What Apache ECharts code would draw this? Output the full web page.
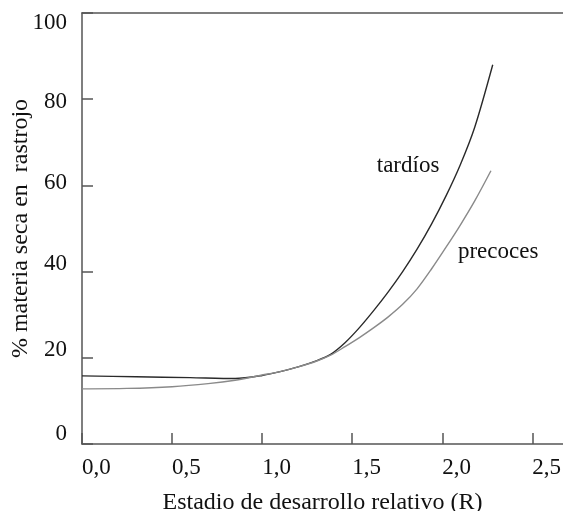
<!DOCTYPE html>
<html>
<head>
<meta charset="utf-8">
<script src="https://cdn.jsdelivr.net/npm/echarts@6/dist/echarts.min.js"></script>
<style>html,body{margin:0;padding:0;background:#fff}#c{width:563px;height:511px}</style>
</head>
<body>
<div id="c"></div>
<script>
// Data
var xTicks = [0, 0.5, 1.0, 1.5, 2.0, 2.5];
var yTicks = [0, 20, 40, 60, 80, 100];

var tardiosR = [0.0, 0.3, 0.6, 0.85, 1.0, 1.1, 1.2, 1.3, 1.38, 1.46, 1.54, 1.62, 1.70, 1.78, 1.86, 1.94, 2.02, 2.10, 2.18, 2.28];
var tardiosV = [15.8, 15.6, 15.4, 15.2, 15.9, 16.8, 17.9, 19.3, 20.8, 23.5, 27.0, 31.0, 35.3, 40.0, 45.2, 51.0, 57.5, 64.8, 73.5, 88.0];

var precocesR = [0.0, 0.25, 0.5, 0.7, 0.85, 1.0, 1.1, 1.2, 1.3, 1.38, 1.46, 1.54, 1.62, 1.70, 1.78, 1.86, 1.94, 2.02, 2.10, 2.18, 2.27];
var precocesV = [12.8, 12.9, 13.3, 14.0, 14.8, 16.0, 16.8, 17.9, 19.2, 20.6, 22.6, 24.7, 27.0, 29.5, 32.4, 36.0, 40.6, 45.6, 50.8, 56.4, 63.4];

var seriesNames = ['tardíos', 'precoces'];
var labelPos = [[1.81, 64.4], [2.31, 44.6]];

var xTitle = 'Estadio de desarrollo relativo (R)';
var yTitle = '% materia seca en  rastrojo';

function pairs(xs, ys) { return xs.map(function (x, i) { return [x, ys[i]]; }); }

var FONT = '"Liberation Serif", "DejaVu Serif", serif';
var axisCol = '#555';

// per-label vertical nudges seen in the original (px, + = down)
var yShift = {0: -10, 20: -8, 40: -8, 60: -2, 80: 2.5, 100: 10};
var rich = {};
yTicks.forEach(function (v) {
  var d = yShift[v];
  rich['v' + v] = {
    fontFamily: FONT, fontSize: 23, color: '#111',
    padding: d >= 0 ? [2 * d, 0, 0, 0] : [0, 0, -2 * d, 0]
  };
});

var chart = echarts.init(document.getElementById('c'), null, {renderer: 'canvas'});
chart.setOption({
  animation: false,
  backgroundColor: '#fff',
  grid: {left: 82, right: 0, top: 13, bottom: 67, outerBoundsMode: 'none', containLabel: false},
  xAxis: [{
    type: 'value', min: 0, max: 2.67,
    axisLine: {show: true, lineStyle: {color: axisCol, width: 1.5}},
    axisTick: {show: true, inside: true, length: 11, customValues: xTicks, lineStyle: {color: axisCol, width: 1.5}},
    axisLabel: {show: true, customValues: xTicks, align: 'left', margin: 12,
      fontFamily: FONT, fontSize: 23, color: '#111',
      formatter: function (v) { return v.toFixed(1).replace('.', ','); }},
    splitLine: {show: false},
    name: xTitle, nameLocation: 'middle', nameGap: 47, nameMoveOverlap: false,
    nameTextStyle: {fontFamily: FONT, fontSize: 24, color: '#111'}
  }, {
    type: 'value', min: 0, max: 2.67, position: 'top',
    axisLine: {show: true, lineStyle: {color: axisCol, width: 1.5}},
    axisTick: {show: false}, axisLabel: {show: false}, splitLine: {show: false}
  }],
  yAxis: {
    type: 'value', min: 0, max: 100, interval: 20,
    axisLine: {show: true, lineStyle: {color: axisCol, width: 1.5}},
    axisTick: {show: true, inside: true, length: 11, lineStyle: {color: axisCol, width: 1.5}},
    axisLabel: {margin: 15, rich: rich,
      formatter: function (v) { return '{v' + v + '|' + v + '}'; }},
    splitLine: {show: false},
    name: yTitle, nameLocation: 'middle', nameGap: 49, nameRotate: 90, nameMoveOverlap: false,
    nameTextStyle: {fontFamily: FONT, fontSize: 24, color: '#111'}
  },
  series: [{
    name: seriesNames[0], type: 'line', smooth: 0.3, symbol: 'none',
    data: pairs(tardiosR, tardiosV),
    lineStyle: {color: '#2a2a2a', width: 1.4},
    markPoint: {symbol: 'circle', symbolSize: 0,
      data: [{coord: labelPos[0], value: seriesNames[0]}],
      label: {show: true, position: 'inside', formatter: seriesNames[0],
        fontFamily: FONT, fontSize: 23, color: '#111'}}
  }, {
    name: seriesNames[1], type: 'line', smooth: 0.3, symbol: 'none',
    data: pairs(precocesR, precocesV),
    lineStyle: {color: '#8a8a8a', width: 1.4},
    markPoint: {symbol: 'circle', symbolSize: 0,
      data: [{coord: labelPos[1], value: seriesNames[1]}],
      label: {show: true, position: 'inside', formatter: seriesNames[1],
        fontFamily: FONT, fontSize: 23, color: '#111'}}
  }]
});
</script>
</body>
</html>
